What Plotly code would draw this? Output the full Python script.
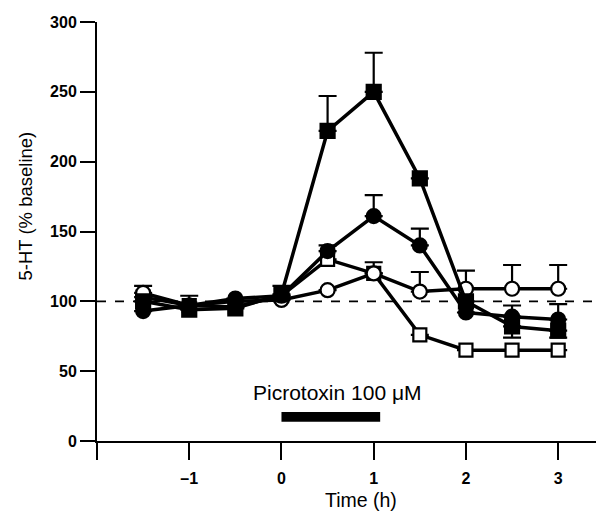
import plotly.graph_objects as go

time_h = [-1.5, -1, -0.5, 0, 0.5, 1, 1.5, 2, 2.5, 3]

filled_sq = [100, 94, 95, 105, 222, 250, 188, 100, 82, 79]
filled_sq_up = [0, 0, 0, 6, 25, 28, 0, 0, 0, 0]
filled_sq_dn = [0, 0, 0, 0, 0, 0, 0, 0, 8, 5]

filled_ci = [93, 97, 102, 104, 136, 161, 140, 92, 89, 87]
filled_ci_up = [0, 0, 0, 0, 4, 15, 12, 0, 8, 11]

open_ci = [106, 97, 100, 101, 108, 120, 107, 109, 109, 109]
open_ci_up = [5, 7, 0, 0, 0, 0, 14, 13, 17, 17]

open_sq = [103, 97, 96, 104, 130, 120, 76, 65, 65, 65]
open_sq_up = [0, 0, 0, 0, 0, 8, 0, 0, 0, 0]

x_ticks = [-2, -1, 0, 1, 2, 3]
x_ticklabels = ["", "\u20131", "0", "1", "2", "3"]
y_ticks = [0, 50, 100, 150, 200, 250, 300]

treatment = [0, 1.07]
baseline = 100

FONT = "Liberation Sans, Arial, Helvetica, sans-serif"

fig = go.Figure()

def add(y, up, dn, symbol, size, filled):
    fig.add_trace(go.Scatter(
        x=time_h, y=y, mode="lines+markers",
        line=dict(color="black", width=3.5),
        marker=dict(symbol=symbol, size=size,
                    color="black" if filled else "white",
                    line=dict(color="black", width=2.2)),
        error_y=dict(type="data", symmetric=False, array=up,
                     arrayminus=dn if dn else [0] * len(y),
                     color="black", thickness=2.2, width=9),
        showlegend=False,
    ))

add(open_sq, open_sq_up, None, "square", 13, False)
add(open_ci, open_ci_up, None, "circle", 14, False)
add(filled_ci, filled_ci_up, None, "circle", 14, True)
add(filled_sq, filled_sq_up, filled_sq_dn, "square", 14, True)

fig.add_shape(type="line", x0=-2, x1=3.41, y0=baseline, y1=baseline,
              line=dict(color="black", width=1.6, dash="dash"), layer="below")
fig.add_shape(type="rect", x0=treatment[0], x1=treatment[1], y0=13.8, y1=20.8,
              fillcolor="black", line=dict(width=0))
fig.add_annotation(x=0.61, y=35, text="Picrotoxin 100 \u03bcM", showarrow=False,
                   font=dict(family=FONT, size=21, color="black"))

# axis titles
fig.add_annotation(xref="paper", yref="paper", x=(361 - 97) / 499, y=(441 - 500) / 419,
                   text="Time (h)", showarrow=False, xanchor="center", yanchor="middle",
                   font=dict(family=FONT, size=19.5, color="black"))
fig.add_annotation(xref="paper", yref="paper", x=(25 - 97) / 499, y=(441 - 206.5) / 419,
                   text="5-HT (% baseline)", showarrow=False, textangle=-90,
                   xanchor="center", yanchor="middle",
                   font=dict(family=FONT, size=18.5, color="black"))

fig.update_layout(
    width=596, height=513,
    margin=dict(l=97, r=0, t=22, b=72, autoexpand=False),
    plot_bgcolor="white", paper_bgcolor="white",
    font=dict(family=FONT, color="black"),
    xaxis=dict(range=[-2, 3.41], tickvals=x_ticks, ticktext=x_ticklabels,
               ticks="outside", ticklen=17, tickwidth=2, tickcolor="black",
               showline=True, linecolor="black", linewidth=2,
               showgrid=False, zeroline=False, ticklabelstandoff=5,
               tickfont=dict(family=FONT, size=16, color="black", weight="bold")),
    yaxis=dict(range=[0, 300], tickvals=y_ticks, ticksuffix=" ",
               ticks="outside", ticklen=15, tickwidth=2, tickcolor="black",
               showline=True, linecolor="black", linewidth=2,
               showgrid=False, zeroline=False,
               tickfont=dict(family=FONT, size=16, color="black", weight="bold")),
)

fig.write_html("out.html")
